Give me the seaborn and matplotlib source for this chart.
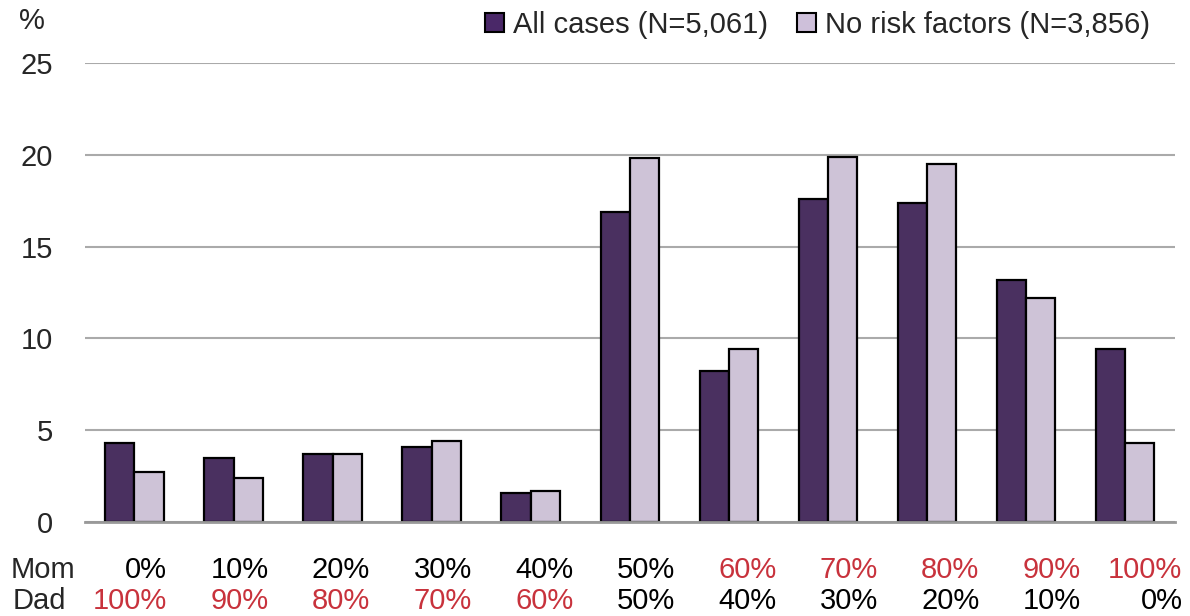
import matplotlib
matplotlib.use("Agg")
import matplotlib.pyplot as plt
import seaborn as sns
import pandas as pd
from matplotlib.patches import Patch

# ==============================
# Data
# ==============================
mom_share = ["0%", "10%", "20%", "30%", "40%", "50%", "60%", "70%", "80%", "90%", "100%"]
dad_share = ["100%", "90%", "80%", "70%", "60%", "50%", "40%", "30%", "20%", "10%", "0%"]
all_cases = [4.3, 3.5, 3.7, 4.1, 1.6, 16.9, 8.2, 17.6, 17.4, 13.2, 9.4]
no_risk = [2.7, 2.4, 3.7, 4.4, 1.7, 19.8, 9.4, 19.9, 19.5, 12.2, 4.3]
series_names = ["All cases (N=5,061)", "No risk factors (N=3,856)"]

DARK = "#4A2868"
LIGHT = "#CEC0DA"
RED = "#C8323C"
FS = 21

df = pd.DataFrame({
    "grupo": list(range(len(mom_share))) * 2,
    "valor": all_cases + no_risk,
    "serie": [series_names[0]] * len(all_cases) + [series_names[1]] * len(no_risk),
})

sns.set_style("white")
plt.rcParams["font.family"] = ["Liberation Sans", "DejaVu Sans"]

fig = plt.figure(figsize=(11.9, 6.16), dpi=100)
ax = fig.add_axes([0.0714, 0.1526, 0.9156, 0.7451])

sns.barplot(data=df, x="grupo", y="valor", hue="serie", palette=[DARK, LIGHT],
            width=0.59, edgecolor="black", linewidth=1.6, ax=ax, legend=False)

ax.set_ylim(0, 25)
ax.set_yticks([0, 5, 10, 15, 20, 25])
ax.tick_params(axis="y", labelsize=FS, length=0, pad=23)
ax.yaxis.grid(True, color="#AAAAAA", linewidth=1.5)
ax.set_axisbelow(True)
ax.set_xlim(-0.5, len(mom_share) - 0.5)
ax.set_xticks([])
ax.set_xlabel("")
ax.set_ylabel("")
for s in ["left", "right", "top"]:
    ax.spines[s].set_visible(False)
ax.spines["bottom"].set_color("#999999")
ax.spines["bottom"].set_linewidth(2)

# Mom / Dad share labels under the bars (right aligned columns)
tr = ax.get_xaxis_transform()
for i, (m, d) in enumerate(zip(mom_share, dad_share)):
    mv = int(m.rstrip("%"))
    dv = int(d.rstrip("%"))
    xr = 0.83 + i * 1.025 - 0.5
    ax.text(xr, -0.105, m, transform=tr, ha="right", va="center", fontsize=FS,
            color=RED if mv > dv else "black", clip_on=False)
    ax.text(xr, -0.172, d, transform=tr, ha="right", va="center", fontsize=FS,
            color=RED if dv > mv else "black", clip_on=False)

fig.text(11 / 1190, 1 - 570 / 616, "Mom", ha="left", va="center", fontsize=FS)
fig.text(13 / 1190, 1 - 601 / 616, "Dad", ha="left", va="center", fontsize=FS)
fig.text(19 / 1190, 1 - 21 / 616, "%", ha="left", va="center", fontsize=FS)

handles = [Patch(facecolor=DARK, edgecolor="black", linewidth=1.5),
           Patch(facecolor=LIGHT, edgecolor="black", linewidth=1.5)]
fig.legend(handles, series_names, loc="center right", bbox_to_anchor=(1150 / 1190, 1 - 25 / 616),
           ncol=2, frameon=False, handlelength=0.65, handleheight=0.65, handletextpad=0.3,
           columnspacing=1.0, borderaxespad=0, borderpad=0,
           prop={"family": ["Liberation Sans"], "size": FS})

fig.savefig("out.png", dpi=100)
plt.close(fig)
